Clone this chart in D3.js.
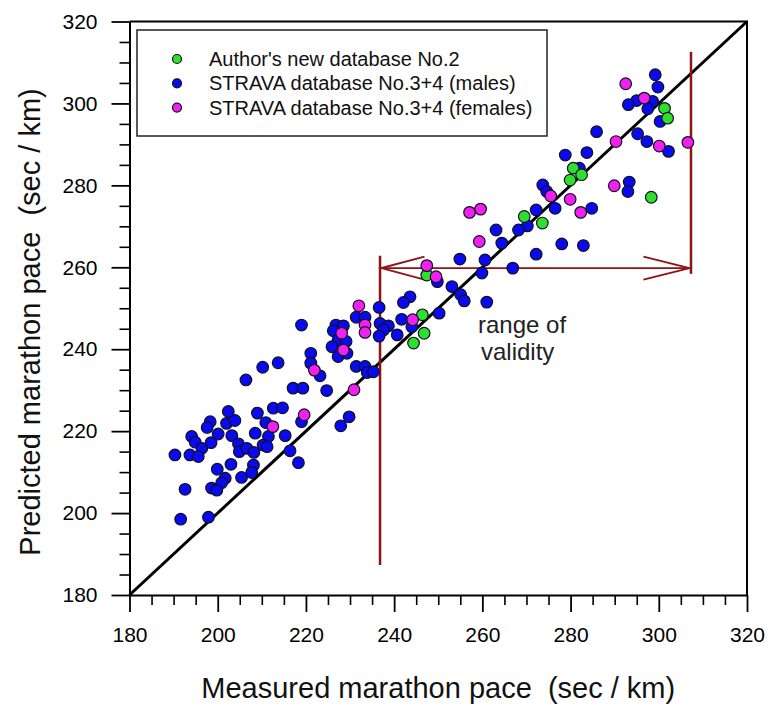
<!DOCTYPE html>
<html>
<head>
<meta charset="utf-8">
<script src="https://cdn.jsdelivr.net/npm/d3@7"></script>
<style>
  body { margin: 0; background: #fff; }
  text { font-family: "Liberation Sans", Arial, sans-serif; }
</style>
</head>
<body>
<div id="chart"></div>
<script>
// series: [measured pace, predicted pace] in sec/km
var authorNo2 = [[247.4,258.1],[246.4,248.4],[246.8,243.9],[244.4,241.5],[280.6,284.2],[282.5,282.6],
  [279.9,281.3],[269.5,272.4],[273.6,270.8],[301.3,298.8],[302.0,296.4],[298.3,277.1]];

var stravaMales = [[213.7,236.7],[210.2,235.6],[206.4,232.5],[202.4,224.8],[198.3,222.3],[197.6,220.9],
  [202.0,221.9],[203.9,222.6],[200.1,219.3],[194.1,218.7],[194.9,217.3],[198.5,217.2],[196.4,215.8],
  [193.7,214.2],[195.6,213.8],[190.3,214.2],[203.2,218.9],[204.7,216.9],[204.9,215.0],[206.6,215.8],
  [208.2,214.8],[208.5,219.5],[209.0,224.4],[210.9,222.1],[212.6,225.6],[214.7,225.7],[211.5,218.7],
  [215.3,218.9],[210.3,216.6],[211.2,216.2],[203.0,211.9],[199.9,210.7],[208.1,211.7],[207.7,209.9],
  [205.4,208.7],[201.7,208.5],[200.9,207.4],[198.6,206.1],[199.8,205.6],[192.6,205.8],[191.6,198.5],
  [197.9,199.0],[216.4,215.2],[218.3,212.3],[219.0,222.3],[229.8,223.5],[227.9,221.3],
  [243.6,252.8],[242.1,251.4],[236.6,250.2],[231.4,247.8],[233.4,247.8],[236.8,246.3],[238.7,245.7],
  [237.6,244.7],[236.6,243.2],[240.7,243.5],[241.7,247.3],[244.0,245.5],[250.2,248.8],[219.0,245.9],
  [226.8,245.9],[228.5,245.7],[226.2,244.5],[227.3,242.3],[229.1,241.9],[225.9,240.6],[227.3,238.2],
  [229.3,239.0],[221.1,239.0],[221.1,236.6],[223.2,233.5],[231.4,235.8],[233.4,235.8],[233.9,234.3],
  [235.3,234.5],[217.1,230.5],[219.3,230.5],[224.7,229.9],[249.8,256.5],
  [278.8,287.4],[283.7,288.0],[282.0,284.2],[273.7,280.1],[274.6,278.5],[276.5,274.4],[272.2,274.0],
  [270.2,270.1],[268.2,269.1],[263.1,269.1],[264.4,265.9],[278.0,265.7],[282.9,265.3],[272.2,263.2],
  [254.9,262.0],[260.6,261.8],[266.9,259.8],[259.9,258.6],[253.1,255.3],[255.1,253.3],[255.9,251.8],
  [261.0,251.5],[299.2,307.0],[299.8,304.0],[295.0,300.7],[298.6,300.5],[293.1,299.7],[297.5,298.7],
  [300.3,295.6],[285.9,293.1],[295.2,292.6],[297.3,290.7],[302.2,288.3],[293.3,280.8],[293.0,278.5],
  [284.8,274.4]];

var stravaFemales = [[247.4,260.4],[249.5,257.7],[232.0,250.6],[233.4,245.9],[233.4,244.1],[244.2,247.2],
  [228.1,243.9],[228.5,239.8],[221.9,234.9],[230.9,230.1],[219.6,224.0],[212.5,221.1],[257.1,273.4],
  [259.6,274.2],[259.3,266.3],[275.5,277.4],[279.9,276.6],[282.3,273.4],[292.5,304.8],[296.7,301.3],
  [290.3,290.7],[300.1,289.6],[306.6,290.5],[289.9,279.9]];

var majorTicks = [180, 200, 220, 240, 260, 280, 300, 320];
var minorTicks = d3.range(185, 320, 5).filter(function(d) { return d % 20 != 0; });
var legendLabels = ["Author's new database No.2", "STRAVA database No.3+4 (males)", "STRAVA database No.3+4 (females)"];
var seriesColors = ["#2ee02e", "#0a0af0", "#f020f0"];

// validity annotation (sec/km)
var validityRange = [236.8, 307.3];
var leftBar = [187.3, 262.8];
var rightBar = [258.4, 312.6];
var arrowY = 259.8;

var width = 769, height = 705;
var svg = d3.select("#chart").append("svg")
  .attr("width", width)
  .attr("height", height);

var x = d3.scaleLinear().domain([180, 320]).range([129.5, 747]);
var y = d3.scaleLinear().domain([180, 320]).range([595, 21.5]);

// frame top and right
svg.append("path")
  .attr("d", "M" + x(180) + "," + y(320) + "H" + x(320) + "V" + y(180))
  .attr("fill", "none").attr("stroke", "#000").attr("stroke-width", 2);

// minor ticks
svg.append("g")
  .attr("transform", "translate(0," + y(180) + ")")
  .call(d3.axisBottom(x).tickValues(minorTicks).tickSize(10).tickSizeOuter(0).tickFormat(""))
  .call(function(g) { g.select(".domain").remove(); g.selectAll("line").attr("stroke-width", 1.6); });
svg.append("g")
  .attr("transform", "translate(" + x(180) + ",0)")
  .call(d3.axisLeft(y).tickValues(minorTicks).tickSize(10).tickSizeOuter(0).tickFormat(""))
  .call(function(g) { g.select(".domain").remove(); g.selectAll("line").attr("stroke-width", 1.6); });

// major axes
var xAxis = svg.append("g")
  .attr("transform", "translate(0," + y(180) + ")")
  .call(d3.axisBottom(x).tickValues(majorTicks).tickSize(17).tickSizeOuter(0).tickPadding(15));
var yAxis = svg.append("g")
  .attr("transform", "translate(" + x(180) + ",0)")
  .call(d3.axisLeft(y).tickValues(majorTicks).tickSize(18).tickSizeOuter(0).tickPadding(14));
[xAxis, yAxis].forEach(function(a) {
  a.select(".domain").attr("stroke-width", 2);
  a.selectAll("line").attr("stroke-width", 1.8);
  a.selectAll("text").attr("font-size", 21).attr("fill", "#000")
    .attr("font-family", "Liberation Sans, Arial, sans-serif");
});

// identity line
svg.append("line")
  .attr("x1", x(180)).attr("y1", y(180))
  .attr("x2", x(320)).attr("y2", y(320))
  .attr("stroke", "#000").attr("stroke-width", 3);

// validity annotation
var red = "#8e1414";
svg.append("line")
  .attr("x1", x(validityRange[0])).attr("x2", x(validityRange[0]))
  .attr("y1", y(leftBar[0])).attr("y2", y(leftBar[1]))
  .attr("stroke", red).attr("stroke-width", 2.5);
svg.append("line")
  .attr("x1", x(validityRange[1])).attr("x2", x(validityRange[1]))
  .attr("y1", y(rightBar[0])).attr("y2", y(rightBar[1]))
  .attr("stroke", red).attr("stroke-width", 2.5);
svg.append("line")
  .attr("x1", x(validityRange[0])).attr("x2", x(validityRange[1]))
  .attr("y1", y(arrowY)).attr("y2", y(arrowY))
  .attr("stroke", red).attr("stroke-width", 1.8);
var ax0 = x(validityRange[0]) + 1.5, ax1 = x(validityRange[1]) - 1.5, ay = y(arrowY);
svg.append("path")
  .attr("d", "M" + (ax0 + 43) + "," + (ay - 11.5) + "L" + ax0 + "," + ay + "L" + (ax0 + 43) + "," + (ay + 11.5))
  .attr("fill", "none").attr("stroke", red).attr("stroke-width", 2);
svg.append("path")
  .attr("d", "M" + (ax1 - 46) + "," + (ay - 11.5) + "L" + ax1 + "," + ay + "L" + (ax1 - 46) + "," + (ay + 11.5))
  .attr("fill", "none").attr("stroke", red).attr("stroke-width", 2);

svg.append("text").attr("x", 478).attr("y", 333).attr("font-size", 24).attr("fill", "#222").text("range of");
svg.append("text").attr("x", 481).attr("y", 360).attr("font-size", 24).attr("fill", "#222").text("validity");

// points: males, then author's, then females on top
function drawPoints(data, color) {
  svg.append("g").selectAll("circle")
    .data(data)
    .enter().append("circle")
    .attr("cx", function(d) { return x(d[0]); })
    .attr("cy", function(d) { return y(d[1]); })
    .attr("r", 5.8)
    .attr("fill", color)
    .attr("stroke", "#101020")
    .attr("stroke-width", 1.2);
}
drawPoints(stravaMales, seriesColors[1]);
drawPoints(authorNo2, seriesColors[0]);
drawPoints(stravaFemales, seriesColors[2]);

// legend
var legend = svg.append("g");
legend.append("rect")
  .attr("x", 137).attr("y", 30).attr("width", 410).attr("height", 106)
  .attr("fill", "#fff").attr("stroke", "#222").attr("stroke-width", 1.5);
legendLabels.forEach(function(label, i) {
  var ly = 59 + i * 24.3;
  legend.append("circle")
    .attr("cx", 177).attr("cy", ly).attr("r", 4.5)
    .attr("fill", seriesColors[i]).attr("stroke", "#111").attr("stroke-width", 1.2);
  legend.append("text")
    .attr("x", 209).attr("y", ly).attr("dy", "0.35em")
    .attr("font-size", 20).attr("fill", "#111")
    .text(label);
});

// axis titles
svg.append("text")
  .attr("x", (x(180) + x(320)) / 2).attr("y", 698)
  .attr("text-anchor", "middle").attr("font-size", 29).attr("fill", "#111")
  .style("white-space", "pre")
  .text("Measured marathon pace  (sec / km)");
svg.append("text")
  .attr("transform", "translate(40,322) rotate(-90)")
  .attr("text-anchor", "middle").attr("font-size", 29).attr("fill", "#111")
  .style("white-space", "pre")
  .text("Predicted marathon pace  (sec / km)");
</script>
</body>
</html>
